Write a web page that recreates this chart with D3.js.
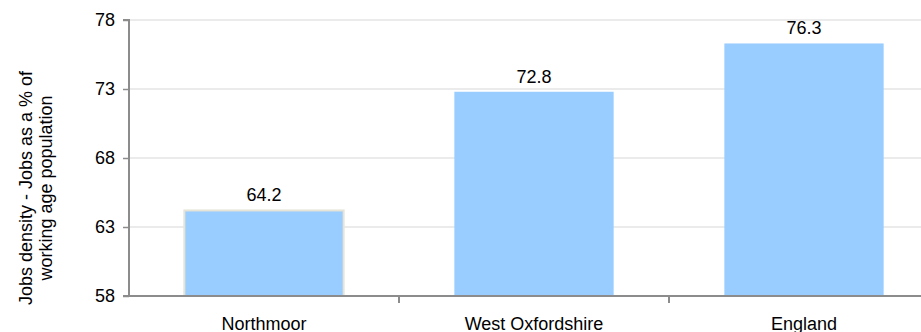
<!DOCTYPE html>
<html><head><meta charset="utf-8">
<script src="https://cdn.jsdelivr.net/npm/d3@7"></script>
<style>body{margin:0;background:#fff;}svg{display:block;font-family:"Liberation Sans",Arial,sans-serif;}</style>
</head><body><svg id="c" width="921" height="332"></svg>
<script>
const categories = ["Northmoor","West Oxfordshire","England"];
const values = [64.2, 72.8, 76.3];
const yTicks = [58, 63, 68, 73, 78];
const yTitle = ["Jobs density - Jobs as a % of","working age population"];

const svg = d3.select("#c");
const FS = 18;
const mLeft = 129, mRight = 939, mTop = 20, mBottom = 296;
const x = d3.scaleBand().domain(categories).range([mLeft, mRight]).paddingInner(0.41).paddingOuter(0.205);
const y = d3.scaleLinear().domain([58, 78]).range([mBottom, mTop]);

// gridlines
svg.append("g").selectAll("line").data(yTicks.slice(1)).join("line")
  .attr("x1", mLeft).attr("x2", mRight).attr("y1", d => y(d)).attr("y2", d => y(d))
  .attr("stroke", "#ebebeb").attr("stroke-width", 2);

// bars
svg.append("g").selectAll("rect").data(values).join("rect")
  .attr("x", (d,i) => x(categories[i])).attr("width", x.bandwidth())
  .attr("y", d => y(d)).attr("height", d => mBottom - y(d))
  .attr("fill", "#99ccff")
  .attr("stroke", (d,i) => i === 0 ? "#e6e4d6" : "none").attr("stroke-width", 2);

// value labels
svg.append("g").selectAll("text").data(values).join("text")
  .attr("x", (d,i) => x(categories[i]) + x.bandwidth()/2).attr("y", d => y(d) - 9)
  .attr("text-anchor", "middle").attr("font-size", FS).attr("fill", "#000")
  .text(d => d.toFixed(1));

// y axis
const ya = svg.append("g").attr("transform", `translate(${mLeft},0)`)
  .call(d3.axisLeft(y).tickValues(yTicks).tickSize(6).tickPadding(8).tickFormat(d3.format("d")));
ya.select(".domain").attr("stroke", "#8c8c8c").attr("stroke-width", 2).attr("d", `M-6,${mTop}H0V${mBottom}H-6`);
ya.selectAll(".tick line").attr("stroke", "#8c8c8c").attr("stroke-width", 1.5);
ya.selectAll(".tick text").attr("font-size", FS).attr("fill", "#000").attr("font-family", "Liberation Sans, Arial, sans-serif");

// x axis
const xa = svg.append("g").attr("transform", `translate(0,${mBottom})`)
  .call(d3.axisBottom(x).tickSize(0).tickPadding(21));
xa.select(".domain").attr("stroke", "#8c8c8c").attr("stroke-width", 2).attr("d", `M${mLeft},0H${mRight}`);
xa.selectAll(".tick text").attr("font-size", FS).attr("fill", "#000").attr("font-family", "Liberation Sans, Arial, sans-serif");
// category boundary ticks
const step = x.step();
const bounds = categories.slice(1).map((c) => x(c) - x.paddingInner()*step/2);
svg.append("g").selectAll("line").data(bounds).join("line")
  .attr("x1", d => d).attr("x2", d => d).attr("y1", mBottom).attr("y2", mBottom + 7)
  .attr("stroke", "#8c8c8c").attr("stroke-width", 2);

// y title
const t = svg.append("text").attr("transform", "translate(32,188) rotate(-90)")
  .attr("text-anchor", "middle").attr("font-size", FS).attr("fill", "#000");
t.selectAll("tspan").data(yTitle).join("tspan")
  .attr("x", 0).attr("y", (d,i) => i * 19.5).text(d => d);
</script></body></html>
